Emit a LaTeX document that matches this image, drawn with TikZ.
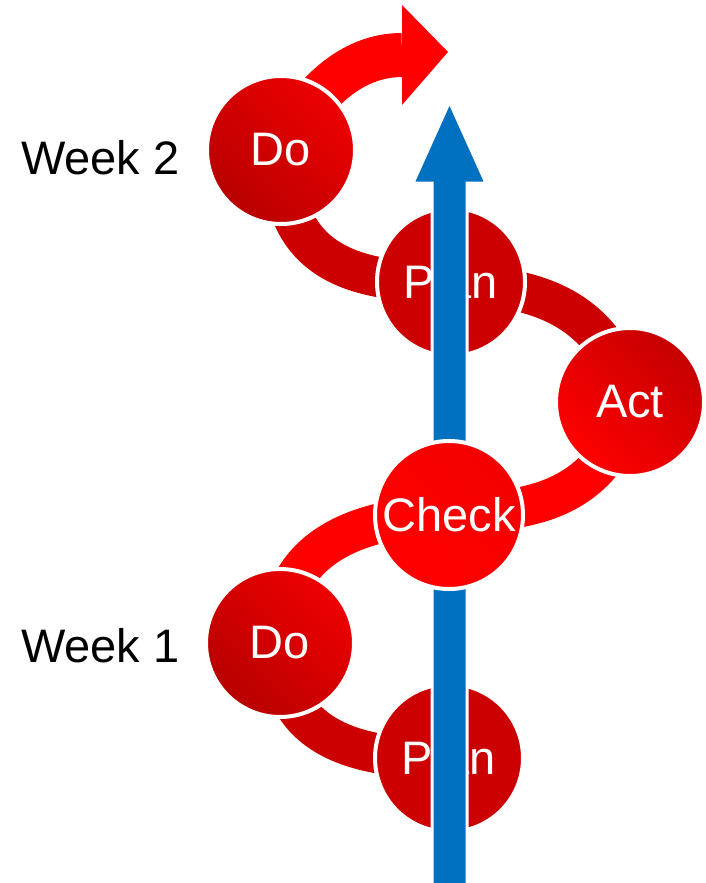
\documentclass[tikz,border=0pt]{standalone}
\usepackage{fontspec}
\setmainfont{Liberation Sans}
\usetikzlibrary{calc}
\pgfdeclarelayer{bands}
\pgfdeclarelayer{discs}
\pgfdeclarelayer{shaft}
\pgfsetlayers{bands,discs,shaft,main}
\definecolor{planred}{HTML}{CC0000}
\definecolor{brightred}{HTML}{FF0000}
\definecolor{dobright}{HTML}{EE0000}
\definecolor{dodark}{HTML}{B80000}
\definecolor{actdark}{HTML}{C60000}
\definecolor{checktop}{HTML}{F40000}
\definecolor{arrowblue}{HTML}{0070C0}
\newcommand\bigfont{\fontsize{47}{56}\selectfont}
\begin{document}
\begin{tikzpicture}[x=1pt,y=1pt,
  disc/.style={circle, minimum size=148pt, inner sep=0pt, draw=white,
    line width=4pt, text=white, font=\bigfont},
  dodisc/.style={disc, top color=dobright, bottom color=dodark, shading angle=-45},
  actdisc/.style={disc, top color=actdark, bottom color=brightred, shading angle=-45},
  checkdisc/.style={disc, top color=checktop, bottom color=brightred, shading angle=-45},
  plandisc/.style={disc, fill=planred},
  band/.style={line width=40pt, line cap=butt},
  weeklabel/.style={anchor=base west, inner sep=0pt, font=\bigfont, text=black}]
\useasboundingbox (0,0) rectangle (705,-883);

% cycle steps
\begin{pgfonlayer}{discs}
  \node[dodisc]   (Do2)   at (281,-150) {Do};
  \node[plandisc] (Plan2) at (451,-282) {Plan};
  \node[actdisc]  (Act)   at (630,-402) {Act};
  \node[dodisc]   (Do1)   at (280,-643) {Do};
  \node[plandisc] (Plan1) at (449,-758) {Plan};
\end{pgfonlayer}
\node[checkdisc] (Check) at (449,-515) {Check};

% week labels
\node[weeklabel] (w2) at (21,-174) {Week 2};
\node[weeklabel] (w1) at (21,-662) {Week 1};

% blue progress arrow, passing over Plan and under Check
\begin{pgfonlayer}{shaft}
  \draw[white, line width=3pt, fill=arrowblue]
    (432,-890) -- (432,-183) -- (413,-183) -- (449.5,-102)
    -- (486,-183) -- (467,-183) -- (467,-890) -- cycle;
\end{pgfonlayer}

% spiral bands linking the steps
\coordinate (headbase) at (402,-55);
\begin{pgfonlayer}{bands}
  \draw[band, draw=planred] (Do1.center) .. controls +(-2,-95) and +(-93,-2) .. (Plan1.center);
  \draw[band, draw=brightred] (Do1.center) .. controls +(-2,95) and +(-93,-2) .. (Check.center);
  \draw[band, draw=brightred] (Check.center) .. controls +(45,7) and +(-29,-119) .. (Act.center);
  \draw[band, draw=planred] (Plan2.center) .. controls +(45,-7) and +(-29,119) .. (Act.center);
  \draw[band, draw=planred] (Do2.center) .. controls +(0,-105) and +(-110,-2) .. (Plan2.center);
  \draw[band, line width=44pt, draw=brightred] (Do2.center) .. controls +(29,55) and +(-52,0) .. (headbase);
  \fill[brightred] ($(headbase)+(0,50)$) -- ($(headbase)+(46,3)$) -- ($(headbase)+(0,-50)$) -- cycle;
\end{pgfonlayer}
\end{tikzpicture}
\end{document}
